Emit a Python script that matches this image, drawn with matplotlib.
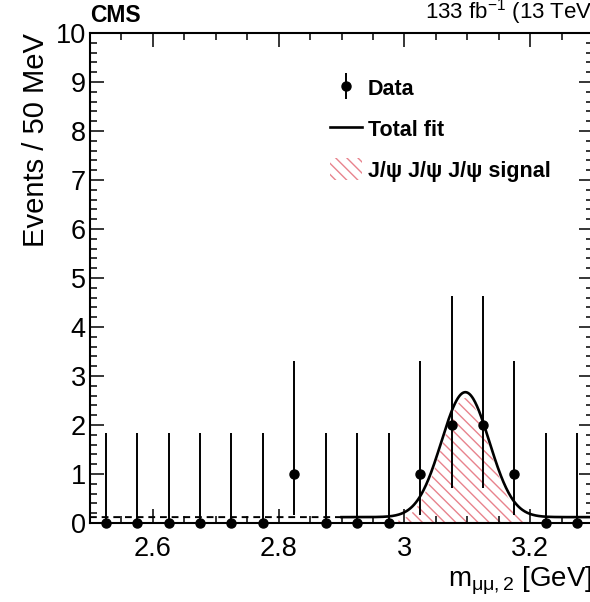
import numpy as np
import matplotlib
matplotlib.use("Agg")
import matplotlib.pyplot as plt
from matplotlib.ticker import MultipleLocator, FixedLocator, FixedFormatter
from matplotlib.legend_handler import HandlerErrorbar

plt.rcParams['font.family'] = ['Liberation Sans', 'DejaVu Sans']
plt.rcParams['mathtext.fontset'] = 'custom'
plt.rcParams['mathtext.rm'] = 'Liberation Sans'
plt.rcParams['mathtext.it'] = 'Liberation Sans:italic'
plt.rcParams['mathtext.bf'] = 'Liberation Sans:bold'
plt.rcParams['hatch.linewidth'] = 1.0

# ---- data ----
bin_centers = [2.525, 2.575, 2.625, 2.675, 2.725, 2.775, 2.825, 2.875,
               2.925, 2.975, 3.025, 3.075, 3.125, 3.175, 3.225, 3.275]
counts      = [0, 0, 0, 0, 0, 0, 1, 0, 0, 0, 1, 2, 2, 1, 0, 0]
err_low     = [0, 0, 0, 0, 0, 0, 0.83, 0, 0, 0, 0.83, 1.29, 1.29, 0.83, 0, 0]
err_high    = [1.84, 1.84, 1.84, 1.84, 1.84, 1.84, 2.30, 1.84, 1.84, 1.84,
               2.30, 2.64, 2.64, 2.30, 1.84, 1.84]

# fit model parameters
peak_mean   = 3.097
peak_sigma  = 0.038
peak_height = 2.55
bkg_level   = 0.12
fit_lo, fit_hi = 2.90, 3.30
sig_lo, sig_hi = 2.99, 3.20

x_ticks  = [2.6, 2.8, 3.0, 3.2]
x_labels = ["2.6", "2.8", "3", "3.2"]
y_ticks  = [0, 1, 2, 3, 4, 5, 6, 7, 8, 9, 10]
y_labels = ["0", "1", "2", "3", "4", "5", "6", "7", "8", "9", "10"]

def signal(x):
    return peak_height * np.exp(-0.5 * ((x - peak_mean) / peak_sigma) ** 2)

# ---- figure ----
fig = plt.figure(figsize=(5.9, 6.02), dpi=100)
ax = fig.add_axes([90/590, (602-523)/602, 503/590, 490/602])

xs_sig = np.linspace(sig_lo, sig_hi, 300)
ax.fill_between(xs_sig, 0, signal(xs_sig), facecolor='none',
                edgecolor='#e8838d', hatch='\\\\\\', linewidth=0,
                label='J/ψ J/ψ J/ψ signal', zorder=1)

xs_fit = np.linspace(fit_lo, fit_hi, 400)
fit_line, = ax.plot(xs_fit, signal(xs_fit) + bkg_level, color='black',
                    lw=1.9, label='Total fit', zorder=3)
xs_dash = np.linspace(2.5, fit_lo, 50)
ax.plot(xs_dash, signal(xs_dash) + bkg_level, color='black', lw=1.4,
        dashes=(3.5, 2.5), zorder=3)

eb = ax.errorbar(bin_centers, counts, yerr=[err_low, err_high], fmt='o',
                 color='black', ms=6.5, elinewidth=1.4, capsize=0,
                 label='Data', zorder=4, clip_on=False)

ax.set_xlim(2.5, 3.3)
ax.set_ylim(0, 10)

ax.xaxis.set_major_locator(FixedLocator(x_ticks))
ax.xaxis.set_major_formatter(FixedFormatter(x_labels))
ax.xaxis.set_minor_locator(MultipleLocator(0.05))
ax.yaxis.set_major_locator(FixedLocator(y_ticks))
ax.yaxis.set_major_formatter(FixedFormatter(y_labels))
ax.yaxis.set_minor_locator(MultipleLocator(0.2))

ax.tick_params(which='both', direction='in', top=True, right=True, width=1.1)
ax.tick_params(which='major', length=10, labelsize=19.5)
ax.tick_params(which='minor', length=5)
ax.tick_params(axis='x', which='major', pad=9)
ax.tick_params(axis='y', which='major', pad=3)
for s in ax.spines.values():
    s.set_linewidth(1.5)

ax.set_ylabel('Events / 50 MeV', fontsize=21, loc='top', labelpad=4)
ax.set_xlabel(r'm$_{\mathrm{μμ,2}}$ [GeV]', fontsize=20, loc='right', labelpad=2)

ax.text(0.0, 1.012, 'CMS', transform=ax.transAxes, fontsize=16.5,
        fontweight='bold', ha='left', va='bottom')
ax.text(1.012, 1.012, r'133 fb$^{-1}$ (13 TeV)', transform=ax.transAxes,
        fontsize=16, ha='right', va='bottom')

handles = [eb, fit_line, ax.collections[0]]
labels = ['Data', 'Total fit', 'J/ψ J/ψ J/ψ signal']
ax.legend(handles, labels, loc='upper left', bbox_to_anchor=(0.477, 0.91),
          frameon=False, prop={'weight': 'bold', 'size': 15.5},
          handlelength=1.5, handleheight=1.16, handletextpad=0.27,
          labelspacing=0.82, borderpad=0, borderaxespad=0,
          handler_map={type(eb): HandlerErrorbar(yerr_size=0.6)})

fig.savefig('out.png', dpi=100)
